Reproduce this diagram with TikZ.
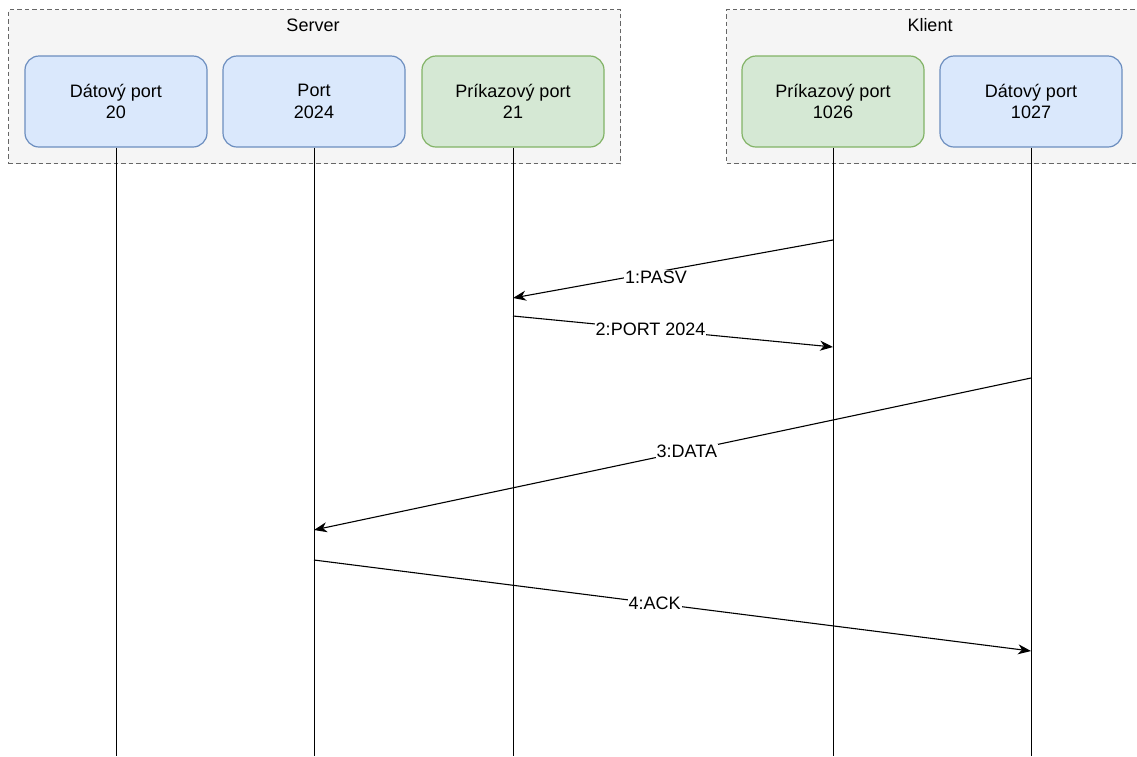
\documentclass[tikz,border=0pt]{standalone}
\usepackage{fontspec}
\setmainfont{Liberation Sans}
\usetikzlibrary{arrows.meta}
\definecolor{grpfill}{HTML}{F5F5F5}
\definecolor{grpline}{HTML}{666666}
\definecolor{bluefill}{HTML}{DAE8FC}
\definecolor{blueline}{HTML}{6C8EBF}
\definecolor{greenfill}{HTML}{D5E8D4}
\definecolor{greenline}{HTML}{82B366}
\begin{document}
\begin{tikzpicture}[x=1pt,y=-1pt,
  txt/.style={font=\fontsize{18}{21.6}\selectfont},
  group/.style={draw=grpline, fill=grpfill, dash pattern=on 4.5pt off 3pt,
    line width=1.1pt, minimum height=154pt, anchor=north west, inner sep=0pt},
  port/.style={txt, align=center, rounded corners=14pt, line width=1.2pt,
    minimum width=182pt, minimum height=91pt, inner sep=0pt},
  dataport/.style={port, draw=blueline, fill=bluefill},
  cmdport/.style={port, draw=greenline, fill=greenfill},
  life/.style={line width=1pt},
  msg/.style={line width=1.1pt, -{Stealth[length=13pt,width=10pt,inset=4pt]}},
  msglabel/.style={txt, fill=white, inner sep=1pt}
]
\useasboundingbox (0,0) rectangle (1137,756);
\coordinate (bottom) at (0,756);

% group frames
\node[group, minimum width=612pt] (server) at (8,9) {};
\node[group, minimum width=412pt] (klient) at (726,9) {};
\node[txt] (serverlbl) at (313,25) {Server};
\node[txt] (klientlbl) at (930,25) {Klient};

% ports
\node[dataport] (d20) at (116,101.5) {Dátový port\\20};
\node[dataport] (p2024) at (314,101.5) {Port\\2024};
\node[cmdport] (c21) at (513,101.5) {Príkazový port\\21};
\node[cmdport] (c1026) at (833,101.5) {Príkazový port\\1026};
\node[dataport] (d1027) at (1031,101.5) {Dátový port\\1027};

% lifelines
\foreach \p in {d20,p2024,c21,c1026,d1027}
  \draw[life] (\p.south) -- (\p.south |- bottom);

% message endpoints
\coordinate (m1a) at (c1026.south |- 0,240);
\coordinate (m1b) at (c21.south |- 0,298);
\coordinate (m2a) at (c21.south |- 0,316);
\coordinate (m2b) at (c1026.south |- 0,347);
\coordinate (m3a) at (d1027.south |- 0,378);
\coordinate (m3b) at (p2024.south |- 0,530);
\coordinate (m4a) at (p2024.south |- 0,560);
\coordinate (m4b) at (d1027.south |- 0,651);

% messages
\draw[msg] (m1a) -- node[msglabel, pos=0.553, yshift=-5pt] (l1) {1:PASV} (m1b);
\draw[msg] (m2a) -- node[msglabel, pos=0.43] (l2) {2:PORT 2024} (m2b);
\draw[msg] (m3a) -- node[msglabel, pos=0.48] (l3) {3:DATA} (m3b);
\draw[msg] (m4a) -- node[msglabel, pos=0.475] (l4) {4:ACK} (m4b);
\end{tikzpicture}
\end{document}
